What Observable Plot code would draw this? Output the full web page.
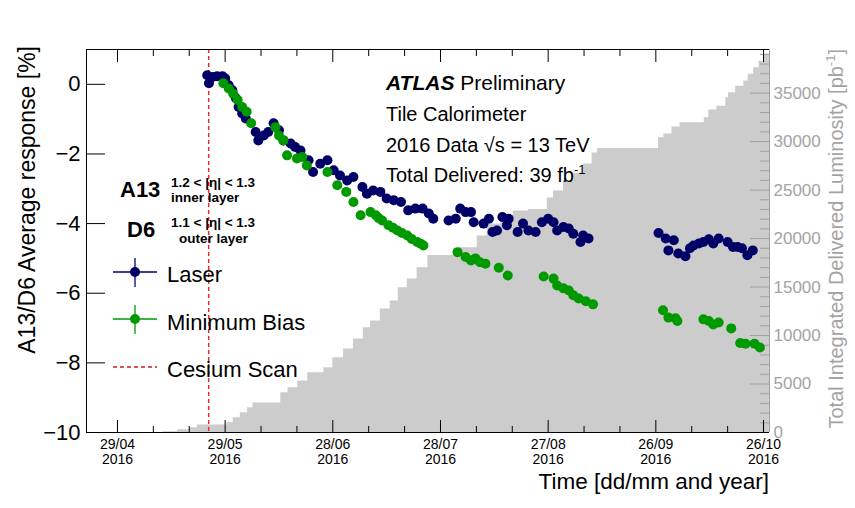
<!DOCTYPE html>
<html><head><meta charset="utf-8">
<script src="https://cdn.jsdelivr.net/npm/d3@7"></script>
<script src="https://cdn.jsdelivr.net/npm/@observablehq/plot@0.6"></script>
<style>
body{margin:0;background:#fff;}
#chart{position:relative;width:855px;height:508px;}
#chart svg{position:absolute;left:0;top:0;}
</style></head><body><div id="chart"></div>
<script>
// ---------------- data ----------------
const laserDates = ["2016-05-24 00","2016-05-24 12","2016-05-25 12","2016-05-26 18","2016-05-28 06","2016-05-29 00","2016-05-30 00","2016-05-31 00","2016-06-01 00","2016-06-01 18","2016-06-02 18","2016-06-03 18","2016-06-06 12","2016-06-07 06","2016-06-08 18","2016-06-10 00","2016-06-11 12","2016-06-13 00","2016-06-14 06","2016-06-16 06","2016-06-17 12","2016-06-19 00","2016-06-21 06","2016-06-22 12","2016-06-24 12","2016-06-26 12","2016-06-28 06","2016-06-30 00","2016-07-02 00","2016-07-03 18","2016-07-06 06","2016-07-07 12","2016-07-09 06","2016-07-11 06","2016-07-13 00","2016-07-15 00","2016-07-17 00","2016-07-19 00","2016-07-21 00","2016-07-23 00","2016-07-24 18","2016-07-26 00","2016-07-30 06","2016-08-01 06","2016-08-02 12","2016-08-04 00","2016-08-05 12","2016-08-06 06","2016-08-09 00","2016-08-10 12","2016-08-11 12","2016-08-12 18","2016-08-14 06","2016-08-15 12","2016-08-16 00","2016-08-18 12","2016-08-20 00","2016-08-21 12","2016-08-23 12","2016-08-25 06","2016-08-27 00","2016-08-28 12","2016-08-29 12","2016-08-31 06","2016-09-01 18","2016-09-03 00","2016-09-05 00","2016-09-05 18","2016-09-07 06","2016-09-26 18","2016-09-28 18","2016-09-29 12","2016-10-01 00","2016-10-02 06","2016-10-04 06","2016-10-05 12","2016-10-06 12","2016-10-08 00","2016-10-09 06","2016-10-10 18","2016-10-12 00","2016-10-13 12","2016-10-16 00","2016-10-17 12","2016-10-18 18","2016-10-20 00","2016-10-21 12","2016-10-23 00"];
const laserValues = [0.26,0.03,0.21,0.23,0.23,0.17,-0.03,-0.17,-0.40,-0.65,-0.84,-0.98,-1.37,-1.61,-1.47,-1.37,-1.12,-1.32,-1.61,-1.70,-1.80,-1.90,-2.18,-2.52,-2.28,-2.18,-2.47,-2.62,-2.76,-2.66,-2.95,-3.14,-3.05,-3.09,-3.28,-3.33,-3.38,-3.62,-3.57,-3.57,-3.71,-3.86,-3.91,-3.86,-3.57,-3.67,-3.67,-3.96,-4.00,-3.86,-4.24,-4.20,-3.81,-4.05,-3.86,-4.24,-4.00,-4.20,-4.24,-3.96,-3.86,-3.96,-4.20,-4.10,-4.14,-4.29,-4.53,-4.34,-4.43,-4.27,-4.43,-4.77,-4.48,-4.86,-4.94,-4.71,-4.63,-4.57,-4.53,-4.45,-4.57,-4.43,-4.53,-4.67,-4.67,-4.71,-4.91,-4.77];

const mbDates = ["2016-05-28 12","2016-05-30 00","2016-05-31 06","2016-06-01 12","2016-06-02 18","2016-06-04 00","2016-06-05 06","2016-06-12 00","2016-06-13 00","2016-06-14 06","2016-06-15 06","2016-06-18 00","2016-06-19 12","2016-06-20 18","2016-06-26 12","2016-06-29 06","2016-07-01 18","2016-07-03 18","2016-07-05 18","2016-07-08 12","2016-07-10 00","2016-07-10 18","2016-07-11 18","2016-07-13 12","2016-07-14 18","2016-07-16 00","2016-07-17 06","2016-07-18 18","2016-07-20 00","2016-07-21 12","2016-07-22 12","2016-07-23 06","2016-08-01 18","2016-08-04 00","2016-08-05 12","2016-08-06 18","2016-08-08 00","2016-08-09 12","2016-08-13 06","2016-08-15 18","2016-08-25 18","2016-08-28 12","2016-08-29 12","2016-08-31 06","2016-09-01 18","2016-09-03 00","2016-09-04 12","2016-09-06 12","2016-09-08 12","2016-09-28 00","2016-09-29 12","2016-10-01 12","2016-10-02 00","2016-10-09 06","2016-10-10 18","2016-10-12 00","2016-10-13 12","2016-10-17 00","2016-10-19 12","2016-10-21 00","2016-10-23 12","2016-10-25 00"];
const mbValues = [0.03,-0.12,-0.27,-0.45,-0.65,-0.79,-1.12,-1.23,-1.47,-1.61,-2.04,-2.13,-2.09,-2.33,-2.52,-2.90,-3.09,-3.38,-3.76,-3.67,-3.76,-3.84,-3.91,-4.05,-4.12,-4.20,-4.27,-4.34,-4.44,-4.53,-4.58,-4.63,-4.82,-4.96,-5.06,-5.00,-5.11,-5.15,-5.27,-5.49,-5.52,-5.58,-5.78,-5.86,-5.92,-6.06,-6.15,-6.23,-6.32,-6.49,-6.70,-6.72,-6.80,-6.75,-6.80,-6.90,-6.84,-7.01,-7.43,-7.45,-7.45,-7.56];

const lumiDates = ["2016-05-05 00","2016-05-11 18","2016-05-15 18","2016-05-19 06","2016-05-21 06","2016-05-29 12","2016-05-31 06","2016-06-02 06","2016-06-04 06","2016-06-05 18","2016-06-13 12","2016-06-15 12","2016-06-18 06","2016-06-21 00","2016-06-25 12","2016-06-28 00","2016-07-01 00","2016-07-03 18","2016-07-06 12","2016-07-08 12","2016-07-11 06","2016-07-14 00","2016-07-16 06","2016-07-18 18","2016-07-21 12","2016-07-24 12","2016-08-02 06","2016-08-07 06","2016-08-10 00","2016-08-13 18","2016-08-17 06","2016-08-21 12","2016-08-26 18","2016-08-28 12","2016-08-31 06","2016-09-03 00","2016-09-05 18","2016-09-08 06","2016-09-09 18","2016-09-26 18","2016-09-28 06","2016-09-30 12","2016-10-02 18","2016-10-09 12","2016-10-10 18","2016-10-13 00","2016-10-15 12","2016-10-16 06","2016-10-18 06","2016-10-20 12","2016-10-21 18","2016-10-23 06","2016-10-24 18","2016-10-26 00","2016-10-27 16"];
const lumiValues = [0,80,290,500,770,1010,1530,2040,2560,3040,4100,4620,5310,6170,6680,7710,8610,9640,10800,11500,12730,13560,14930,15830,17000,18250,19050,20260,21500,22320,22840,23000,24180,24900,25930,26750,27680,28820,29300,30390,30780,31500,31940,32460,33250,33660,34520,35030,35720,36240,36960,37610,38300,39020,39020];

const cesiumDates = ["2016-05-24 10"];

const xMajorTicks = ["2016-04-29 00","2016-05-29 00","2016-06-28 00","2016-07-28 00","2016-08-27 00","2016-09-26 00","2016-10-26 00"];
const xMinorTicks = ["2016-05-09 00","2016-05-19 00","2016-06-08 00","2016-06-18 00","2016-07-08 00","2016-07-18 00","2016-08-07 00","2016-08-17 00","2016-09-06 00","2016-09-16 00","2016-10-06 00","2016-10-16 00"];
const yTicks = [0,-2,-4,-6,-8,-10];
const lumiMajorTicks = [0,5000,10000,15000,20000,25000,30000,35000];
const lumiMinorTicks = d3.range(1000, 39001, 1000).filter(v => v % 5000 !== 0);

// ---------------- setup ----------------
const parse = d3.utcParse("%Y-%m-%d %H");
const W = 855, H = 508, ML = 86, MR = 86, MT = 49, MB = 76;
const PW = W - ML - MR, PH = H - MT - MB;
const xDomain = [parse("2016-04-20 09"), parse("2016-10-27 16")];
const yDomain = [-10, 1];
const lumiDomain = [0, 39500];
const font = "'Liberation Sans', Arial, Helvetica, sans-serif";
const NAVY = "#000066", GREEN = "#009900", RED = "#e8282b", GRAY = "#a0a0a0";

const laser = laserDates.map((d, i) => ({date: parse(d), v: laserValues[i]}));
const mb = mbDates.map((d, i) => ({date: parse(d), v: mbValues[i]}));
const lumi = lumiDates.map((d, i) => ({date: parse(d), lumi: lumiValues[i]}));
const cesium = cesiumDates.map(parse);
const xMajor = xMajorTicks.map(parse);
const xMinor = xMinorTicks.map(parse);

const common = {width: W, height: H, marginLeft: ML, marginRight: MR, marginTop: MT, marginBottom: MB};

// background plot: integrated luminosity (right axis)
const bg = Plot.plot({
  ...common,
  style: {background: "white", fontFamily: font},
  x: {type: "utc", domain: xDomain, axis: null},
  y: {domain: lumiDomain, axis: null},
  marks: [
    Plot.areaY(lumi, {x: "date", y: "lumi", curve: "step-after", fill: "#cccccc", clip: true}),
    Plot.tickY(lumiMinorTicks, {y: d => d, stroke: GRAY, insetLeft: PW - 9}),
    Plot.tickY(lumiMajorTicks, {y: d => d, stroke: GRAY, insetLeft: PW - 19}),
    Plot.ruleX([xDomain[1]], {stroke: GRAY}),
    Plot.axisY(lumiMajorTicks, {anchor: "right", tickSize: 0, tickPadding: 4, fontSize: 17, fill: "#a3a3a3", tickFormat: d3.format("d"), label: null})
  ]
});

// foreground plot: response
const fmt = d3.utcFormat("%d/%m\n%Y");
const fg = Plot.plot({
  ...common,
  style: {background: "transparent", fontFamily: font, overflow: "visible"},
  x: {type: "utc", domain: xDomain, axis: null},
  y: {domain: yDomain, axis: null},
  marks: [
    Plot.ruleX(cesium, {x: d => d, stroke: RED, strokeWidth: 1.5, strokeDasharray: "4,3"}),
    Plot.dot(laser, {x: "date", y: "v", r: 5, fill: NAVY}),
    Plot.dot(mb, {x: "date", y: "v", r: 5, fill: GREEN}),
    Plot.ruleX([xDomain[0]], {stroke: "black"}),
    Plot.ruleY([yDomain[0]], {stroke: "black"}),
    Plot.ruleY([yDomain[1]], {stroke: "black"}),
    Plot.tickX(xMajor, {x: d => d, stroke: "black", insetTop: PH - 12}),
    Plot.tickX(xMinor, {x: d => d, stroke: "black", insetTop: PH - 6}),
    Plot.tickX(xMajor, {x: d => d, stroke: "black", insetBottom: PH - 13}),
    Plot.tickX(xMinor, {x: d => d, stroke: "black", insetBottom: PH - 7}),
    Plot.tickY(yTicks, {y: d => d, stroke: "black", insetRight: PW - 19}),
    Plot.axisX(xMajor, {anchor: "bottom", tickSize: 0, tickPadding: 5, fontSize: 14, lineHeight: 1.12, tickFormat: fmt, label: null}),
    Plot.axisY(yTicks, {anchor: "left", tickSize: 0, tickPadding: 6, fontSize: 22, tickFormat: d3.format("d"), label: null})
  ]
});

const chart = document.getElementById("chart");
chart.appendChild(bg);
chart.appendChild(fg);

// ---------------- texts & legend ----------------
const svg = d3.select(fg);
const g = svg.append("g").attr("font-family", font);
function txt(x, y, s, o = {}) {
  const t = g.append("text")
    .attr("transform", `translate(${x},${y})` + (o.rotate ? ` rotate(${o.rotate})` : ""))
    .attr("font-size", o.size || 20)
    .attr("font-weight", o.weight || "normal")
    .attr("font-style", o.style || "normal")
    .attr("text-anchor", o.anchor || "start")
    .attr("fill", o.fill || "black");
  if (s !== null) t.text(s);
  return t;
}

// axis titles
const yt = txt(35, 46, null, {size: 23, rotate: -90, anchor: "end"});
yt.text("A13/D6 Average response [%]");
txt(769, 489, "Time [dd/mm and year]", {size: 22.5, anchor: "end"});
const rt = txt(843, 49, null, {size: 20, rotate: -90, anchor: "end", fill: "#a3a3a3"});
rt.append("tspan").text("Total Integrated Delivered Luminosity [pb");
rt.append("tspan").attr("font-size", 13).attr("dy", -8).text("-1");
rt.append("tspan").attr("dy", 8).text("]");

// ATLAS label
const at = txt(386, 90, null, {size: 21});
at.append("tspan").attr("font-weight", "bold").attr("font-style", "italic").text("ATLAS");
at.append("tspan").text(" Preliminary");
txt(386, 121, "Tile Calorimeter", {size: 20});
txt(386, 152, "2016 Data √s = 13 TeV", {size: 20});
const td = txt(386, 182, null, {size: 20});
td.append("tspan").text("Total Delivered: 39 fb");
td.append("tspan").attr("font-size", 13).attr("dy", -8).text("-1");

// cell labels
txt(120, 197, "A13", {size: 22, weight: "bold"});
txt(171, 187, "1.2 < |η| < 1.3", {size: 13.5, weight: "bold"});
txt(171, 202, "inner layer", {size: 13.5, weight: "bold"});
txt(127, 237, "D6", {size: 22, weight: "bold"});
txt(171, 227, "1.1 < |η| < 1.3", {size: 13.5, weight: "bold"});
txt(179, 243, "outer layer", {size: 13.5, weight: "bold"});

// legend
function legMarker(cy, color) {
  g.append("line").attr("x1", 113).attr("x2", 157).attr("y1", cy).attr("y2", cy).attr("stroke", color).attr("stroke-width", 1.3);
  g.append("line").attr("x1", 135).attr("x2", 135).attr("y1", cy - 14).attr("y2", cy + 15).attr("stroke", color).attr("stroke-width", 1.3);
  g.append("circle").attr("cx", 135).attr("cy", cy).attr("r", 5).attr("fill", color);
}
legMarker(272, NAVY);
txt(167, 282, "Laser", {size: 22});
legMarker(319, GREEN);
txt(167, 330, "Minimum Bias", {size: 22});
g.append("line").attr("x1", 113).attr("x2", 157).attr("y1", 367).attr("y2", 367)
  .attr("stroke", "#c81e1e").attr("stroke-width", 1.3).attr("stroke-dasharray", "4,3");
txt(167, 377, "Cesium Scan", {size: 22});
</script>
</body></html>
